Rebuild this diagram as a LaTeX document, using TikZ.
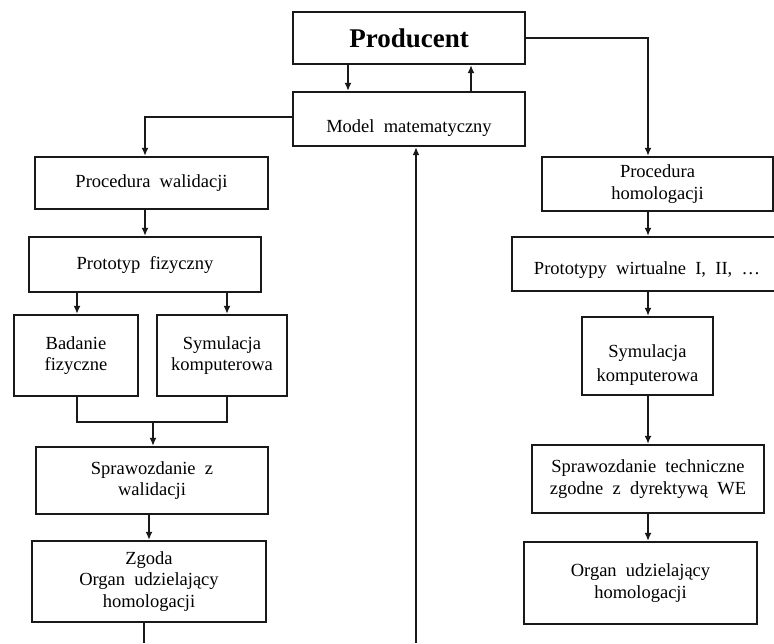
\documentclass[tikz,border=0pt]{standalone}
\usepackage{fontspec}
\setmainfont{Liberation Serif}
\usetikzlibrary{arrows.meta}
\begin{document}
\begin{tikzpicture}[x=1pt,y=-1pt,
  box/.style={draw=black!90, line width=2.2pt, align=center, inner sep=2pt,
    font=\fontsize{18.5}{21.5}\selectfont},
  arr/.style={draw=black!90, line width=2pt, -{Latex[length=8pt,width=7pt]}},
  ln/.style={draw=black!90, line width=2pt}]
\useasboundingbox (0,0) rectangle (774,643);
% top
\node[box, minimum width=232pt, minimum height=52pt, font=\fontsize{27}{30}\selectfont\bfseries] (prod) at (409,38) {Producent};
\node[box, minimum width=232pt, minimum height=54pt] (model) at (409,119) {\raisebox{-13.5pt}[0pt][0pt]{Model\ \ matematyczny}};
% left column
\node[box, minimum width=233pt, minimum height=52pt] (pw) at (151.5,183) {Procedura\ \ walidacji};
\node[box, minimum width=232pt, minimum height=55pt] (pf) at (145,264.5) {Prototyp\ \ fizyczny};
\node[box, minimum width=124pt, minimum height=81pt] (bf) at (76,355.5) {Badanie\\fizyczne};
\node[box, minimum width=130pt, minimum height=81pt] (skl) at (222,355.5) {Symulacja\\komputerowa};
\node[box, minimum width=232pt, minimum height=67pt] (sw) at (152,480.5) {Sprawozdanie\ \ z\\walidacji};
\node[box, minimum width=234pt, minimum height=81pt] (zg) at (149,581.5) {Zgoda\\Organ\ \ udzielający\\homologacji};
% right column
\node[box, minimum width=231pt, minimum height=54pt] (ph) at (657.5,184) {Procedura\\homologacji};
\node[box, minimum width=270pt, minimum height=54pt] (pv) at (647,264) {\raisebox{-10.5pt}[0pt][0pt]{Prototypy\ \ wirtualne\ \ I,\ \ II,\ \ …}};
\node[box, minimum width=131pt, minimum height=78pt] (skr) at (647.5,356) {\raisebox{-25.5pt}[0pt][0pt]{\renewcommand{\arraystretch}{1.1}\begin{tabular}[b]{@{}c@{}}Symulacja\\komputerowa\end{tabular}}};
\node[box, minimum width=232pt, minimum height=68pt] (st) at (648,479) {Sprawozdanie\ \ techniczne\\zgodne\ \ z\ \ dyrektywą\ \ WE};
\node[box, minimum width=233pt, minimum height=82pt] (ou) at (640.5,583) {Organ\ \ udzielający\\homologacji};
% helper coordinates
\coordinate (a1) at (348,0);
\coordinate (a2) at (471,0);
\coordinate (yM) at (0,117);
\coordinate (cL) at (145,0);
\coordinate (cR) at (648,0);
\coordinate (m1) at (77,0);
\coordinate (m2) at (227,0);
\coordinate (yJ) at (0,422);
\coordinate (cM) at (153,0);
\coordinate (cZ) at (149,0);
\coordinate (cB) at (144,643);
\coordinate (cV) at (416,643);
% connectors
\draw[arr] (prod.south -| a1) -- (model.north -| a1);
\draw[arr] (model.north -| a2) -- (prod.south -| a2);
\draw[arr] (model.west |- yM) -| (pw.north -| cL);
\draw[arr] (prod.east) -| (ph.north -| cR);
\draw[arr] (pw.south -| cL) -- (pf.north -| cL);
\draw[arr] (pf.south -| m1) -- (bf.north -| m1);
\draw[arr] (pf.south -| m2) -- (skl.north -| m2);
\draw[ln] (bf.south -| m1) -- (m1 |- yJ) -- (m2 |- yJ) -- (skl.south -| m2);
\draw[arr] (cM |- yJ) -- (sw.north -| cM);
\draw[arr] (sw.south -| cZ) -- (zg.north -| cZ);
\draw[ln] (zg.south -| cB) -- (cB);
\draw[arr] (cV) -- (model.south -| cV);
\draw[arr] (ph.south -| cR) -- (pv.north -| cR);
\draw[arr] (pv.south -| cR) -- (skr.north -| cR);
\draw[arr] (skr.south -| cR) -- (st.north -| cR);
\draw[arr] (st.south -| cR) -- (ou.north -| cR);
\end{tikzpicture}
\end{document}
